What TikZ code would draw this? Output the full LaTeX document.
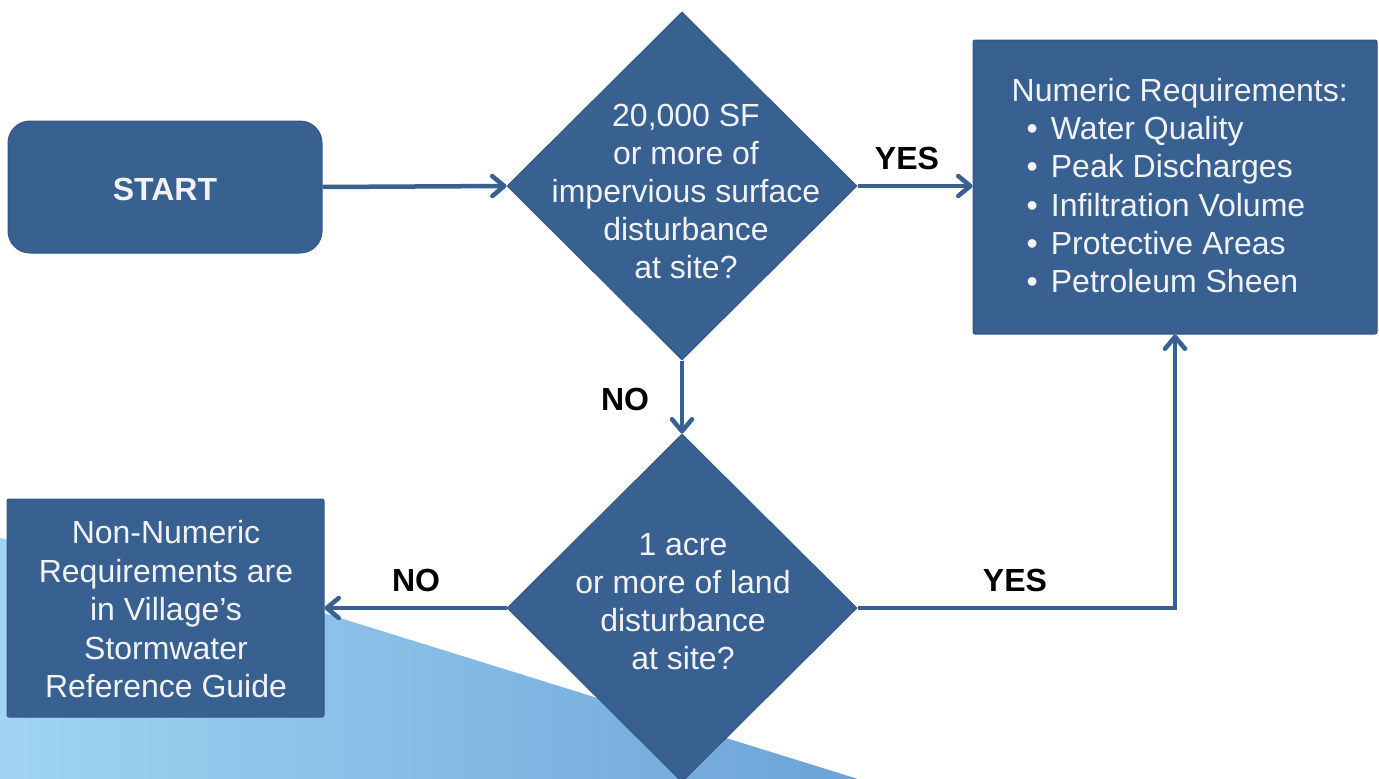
\documentclass[tikz,border=0pt]{standalone}
\usepackage{fontspec}
\setmainfont{Liberation Sans}
\usetikzlibrary{shapes.geometric,arrows.meta,calc}
\definecolor{boxblue}{RGB}{56,96,145}
\definecolor{edgeblue}{RGB}{50,88,135}
\definecolor{txtwhite}{RGB}{242,242,242}
\definecolor{bglight}{RGB}{160,212,242}
\definecolor{bgdark}{RGB}{108,163,216}
\begin{document}
\begin{tikzpicture}[x=1pt,y=-1pt,
  shapebox/.style={fill=boxblue,draw=edgeblue,line width=1pt},
  bodytext/.style={text=txtwhite,font=\fontsize{32}{38.2}\selectfont,align=center,inner sep=0pt},
  lbl/.style={font=\fontsize{32}{38}\selectfont\bfseries,text=black,inner sep=0pt},
  flow/.style={draw=boxblue,line width=4.5pt,-{Straight Barb[length=12pt,width=20pt,round]}}]
\useasboundingbox (0,0) rectangle (1379,779);
% background wedge
\shade[left color=bglight,right color=bgdark] (0,538) -- (250,590) -- (858,779) -- (0,779) -- cycle;
% shapes
\node[shapebox,rounded corners=22pt,minimum width=314pt,minimum height=132pt,
      text=txtwhite,font=\fontsize{32}{38}\selectfont\bfseries] (start) at (165,187) {\raisebox{-2.5pt}[22.9pt][0pt]{START}};
\node[shapebox,diamond,minimum width=350pt,minimum height=348pt,inner sep=0pt] (d1) at (682,186) {};
\node[shapebox,diamond,minimum width=350pt,minimum height=348pt,inner sep=0pt] (d2) at (682,608) {};
\node[shapebox,rounded corners=2pt,minimum width=404pt,minimum height=294pt] (num) at (1175,187) {};
\node[shapebox,rounded corners=2pt,minimum width=317pt,minimum height=218pt] (non) at (165.5,608) {};
% texts
\node[bodytext] (d1t) at (686,191.5) {20,000 SF\\or more of\\impervious surface\\disturbance\\at site?};
\node[bodytext] (d2t) at (683,601.5) {1 acre\\or more of land\\disturbance\\at site?};
\node[bodytext,font=\fontsize{32}{38.5}\selectfont] (nont) at (166,609.5) {Non-Numeric\\Requirements are\\in Village’s\\Stormwater\\Reference Guide};
\node[bodytext,align=left,anchor=north west,font=\fontsize{32}{38.3}\selectfont] (numt) at (1011.5,78) {Numeric Requirements:\\
  \hspace*{15pt}•\hspace*{13pt}Water Quality\\
  \hspace*{15pt}•\hspace*{13pt}Peak Discharges\\
  \hspace*{15pt}•\hspace*{13pt}Infiltration Volume\\
  \hspace*{15pt}•\hspace*{13pt}Protective Areas\\
  \hspace*{15pt}•\hspace*{13pt}Petroleum Sheen};
% labels
\node[lbl] (yes1) at (907,158) {YES};
\node[lbl] (no1) at (625,399) {NO};
\node[lbl] (no2) at (416,580) {NO};
\node[lbl] (yes2) at (1015,580) {YES};
% connectors
\draw[flow] (start.east) -- (d1.west);
\draw[flow] (d1.east) -- (d1.east -| num.west);
\draw[flow] (d1.south) -- (d2.north);
\draw[flow] (d2.west) -- (non.east);
\draw[flow] (d2.east) -| (num.south);
\end{tikzpicture}
\end{document}
